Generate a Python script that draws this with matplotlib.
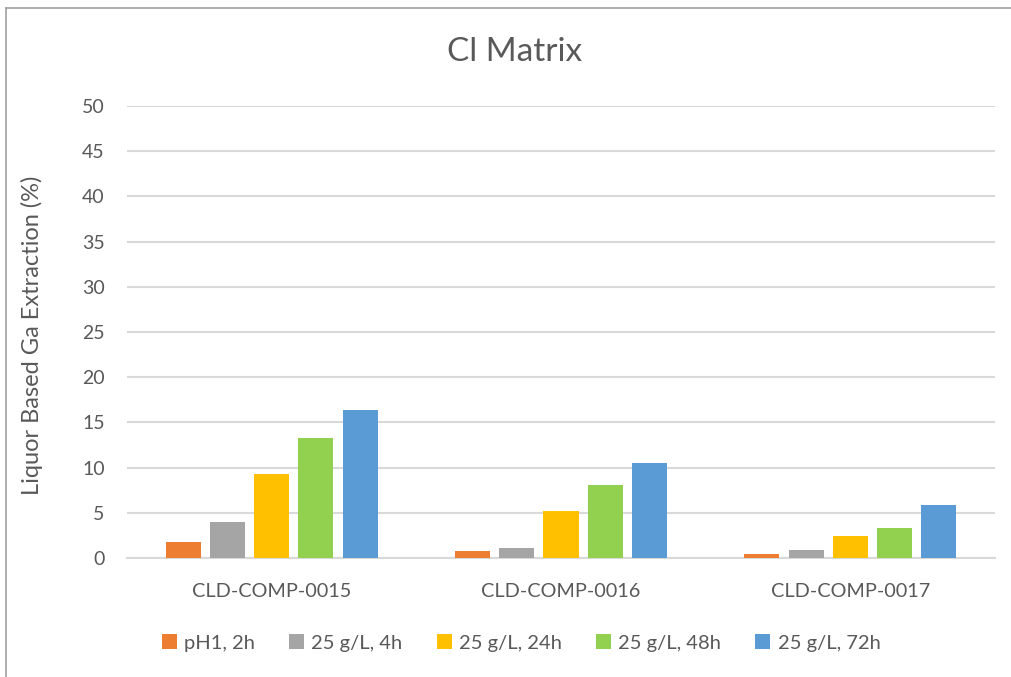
import numpy as np
import matplotlib
matplotlib.use('Agg')
import matplotlib.pyplot as plt
from matplotlib.lines import Line2D

plt.rcParams['font.family'] = ['Lato', 'DejaVu Sans']

categories = ['CLD-COMP-0015', 'CLD-COMP-0016', 'CLD-COMP-0017']
series_names = ['pH1, 2h', '25 g/L, 4h', '25 g/L, 24h', '25 g/L, 48h', '25 g/L, 72h']
values = [
    [1.76, 0.74, 0.44],
    [3.97, 1.15, 0.92],
    [9.29, 5.15, 2.39],
    [13.26, 8.05, 3.34],
    [16.38, 10.47, 5.84],
]
colors = ['#ED7D31', '#A5A5A5', '#FFC000', '#92D050', '#5B9BD5']

text_color = '#595959'
grid_color = '#D9D9D9'

fig = plt.figure(figsize=(10.12, 6.77), dpi=100)
ax = fig.add_axes([127 / 1012, 1 - 558 / 677, 868 / 1012, 452 / 677])

x = np.arange(len(categories))
slot = 0.153
width = 0.121
for i, (name, vals, c) in enumerate(zip(series_names, values, colors)):
    offs = (i - 2) * slot
    ax.bar(x + offs, vals, width=width, color=c, label=name, zorder=3)

ax.set_xlim(-0.5, 2.5)
ax.set_ylim(0, 50)
ax.set_yticks(np.arange(0, 51, 5))
ax.set_xticks(x)
ax.set_xticklabels(categories)
ax.yaxis.grid(True, color=grid_color, linewidth=1.5, zorder=0)
ax.set_axisbelow(True)
for s in ['top', 'right', 'left']:
    ax.spines[s].set_visible(False)
ax.spines['bottom'].set_color(grid_color)
ax.spines['bottom'].set_linewidth(1.5)
ax.tick_params(axis='both', length=0, labelsize=14, colors=text_color)
ax.tick_params(axis='x', labelsize=14.3, pad=18)
ax.tick_params(axis='y', pad=16)

fig.text(32 / 1012, 1 - 335 / 677, 'Liquor Based Ga Extraction (%)', rotation=90,
         ha='center', va='center', fontsize=17, color=text_color)

fig.text(515 / 1012, 1 - 52 / 677, 'Cl Matrix', ha='center', va='center',
         fontsize=24, color=text_color)

leg = fig.legend(loc='center', bbox_to_anchor=(521 / 1012, 1 - 643 / 677), ncol=5,
                 frameon=False, fontsize=14.5, handlelength=0.75, handleheight=0.75,
                 handletextpad=0.35, columnspacing=1.7)
for t in leg.get_texts():
    t.set_color(text_color)

# chart frame (left and top edges visible)
fig.add_artist(Line2D([6.5 / 1012, 6.5 / 1012], [0, 1 - 7.5 / 677], color='#A0A0A0', linewidth=1.2))
fig.add_artist(Line2D([6.5 / 1012, 1], [1 - 7.5 / 677, 1 - 7.5 / 677], color='#A0A0A0', linewidth=1.2))

fig.savefig('out.png', dpi=100)
